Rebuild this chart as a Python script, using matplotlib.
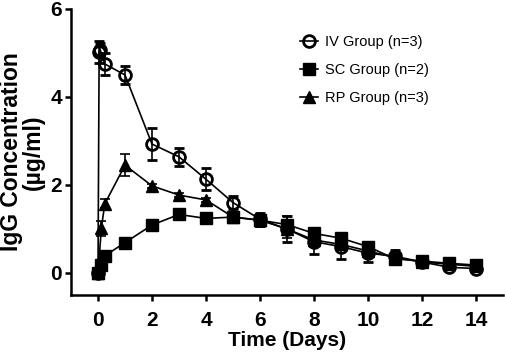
import numpy as np
import matplotlib
matplotlib.use("Agg")
import matplotlib.pyplot as plt

plt.rcParams['font.family'] = ['Liberation Sans', 'DejaVu Sans']

# IgG concentration (ug/ml) vs time (days), mean +/- SD
iv_t = [0, 0.042, 0.083, 0.25, 1, 2, 3, 4, 5, 6, 7, 8, 9, 10, 11, 12, 13, 14]
iv_y = [0, 5.03, 5.07, 4.75, 4.5, 2.93, 2.64, 2.13, 1.6, 1.22, 1.0, 0.71, 0.6, 0.45, 0.38, 0.25, 0.13, 0.1]
iv_err = [0, 0.25, 0.15, 0.25, 0.2, 0.36, 0.2, 0.25, 0.15, 0.15, 0.3, 0.27, 0.28, 0.2, 0.15, 0.05, 0.05, 0.05]

sc_t = [0, 0.125, 0.25, 1, 2, 3, 4, 5, 6, 7, 8, 9, 10, 11, 12, 13, 14]
sc_y = [0, 0.18, 0.39, 0.69, 1.09, 1.33, 1.24, 1.27, 1.2, 1.1, 0.9, 0.79, 0.6, 0.32, 0.27, 0.22, 0.18]
sc_err = [0, 0.05, 0.05, 0.05, 0.05, 0.05, 0.05, 0.05, 0.15, 0.2, 0.1, 0.1, 0.1, 0.05, 0.05, 0.05, 0.05]

rp_t = [0, 0.125, 0.25, 1, 2, 3, 4, 5, 6, 7, 8, 9, 10, 11, 12, 13, 14]
rp_y = [0, 1.02, 1.57, 2.45, 1.98, 1.77, 1.66, 1.27, 1.2, 1.0, 0.75, 0.65, 0.5, 0.35, 0.25, 0.2, 0.15]
rp_err = [0, 0.17, 0.1, 0.25, 0.05, 0.05, 0.05, 0.05, 0.1, 0.2, 0.15, 0.1, 0.1, 0.1, 0.05, 0.05, 0.05]

labels = ['IV Group (n=3)', 'SC Group (n=2)', 'RP Group (n=3)']

fig = plt.figure(figsize=(5.05, 3.54), dpi=100)
ax = fig.add_axes([0.1406, 0.1667, 0.8554, 0.808])

common = dict(color='black', lw=1.2, elinewidth=1.2, capsize=3.6, capthick=1.2, ms=8.5)
ax.errorbar(iv_t, iv_y, yerr=iv_err, marker='o', mfc='none', mec='black', mew=2, label=labels[0], **common)
ax.errorbar(sc_t, sc_y, yerr=sc_err, marker='s', mfc='black', mec='black', label=labels[1], **common)
ax.errorbar(rp_t, rp_y, yerr=rp_err, marker='^', mfc='black', mec='black', label=labels[2], **common)

ax.set_xlim(-1, 15)
ax.set_ylim(-0.5, 6)
ax.set_xticks(np.arange(0, 15, 2))
ax.set_yticks([0, 2, 4, 6])
ax.spines['top'].set_visible(False)
ax.spines['right'].set_visible(False)
for s in ['left', 'bottom']:
    ax.spines[s].set_linewidth(1.8)
ax.tick_params(width=1.8, length=4.5, labelsize=15)
ax.tick_params(axis='x', pad=7)
ax.tick_params(axis='y', pad=2)
for lbl in ax.get_xticklabels() + ax.get_yticklabels():
    lbl.set_fontweight('bold')

ax.set_xlabel('Time (Days)', fontsize=15, fontweight='bold', labelpad=1)
ax.set_ylabel('IgG Concentration\n(µg/ml)', fontsize=16.5, fontweight='bold',
              labelpad=4, linespacing=0.95)

handles, _ = ax.get_legend_handles_labels()
handles = [h[0] for h in handles]
fig.legend(handles, labels, loc='upper left', bbox_to_anchor=(300 / 505, 1 - 35 / 354),
           frameon=False, fontsize=10.5, handlelength=1.2, handletextpad=0.5,
           labelspacing=0.95, borderpad=0, borderaxespad=0)

fig.savefig('out.png', dpi=100)
